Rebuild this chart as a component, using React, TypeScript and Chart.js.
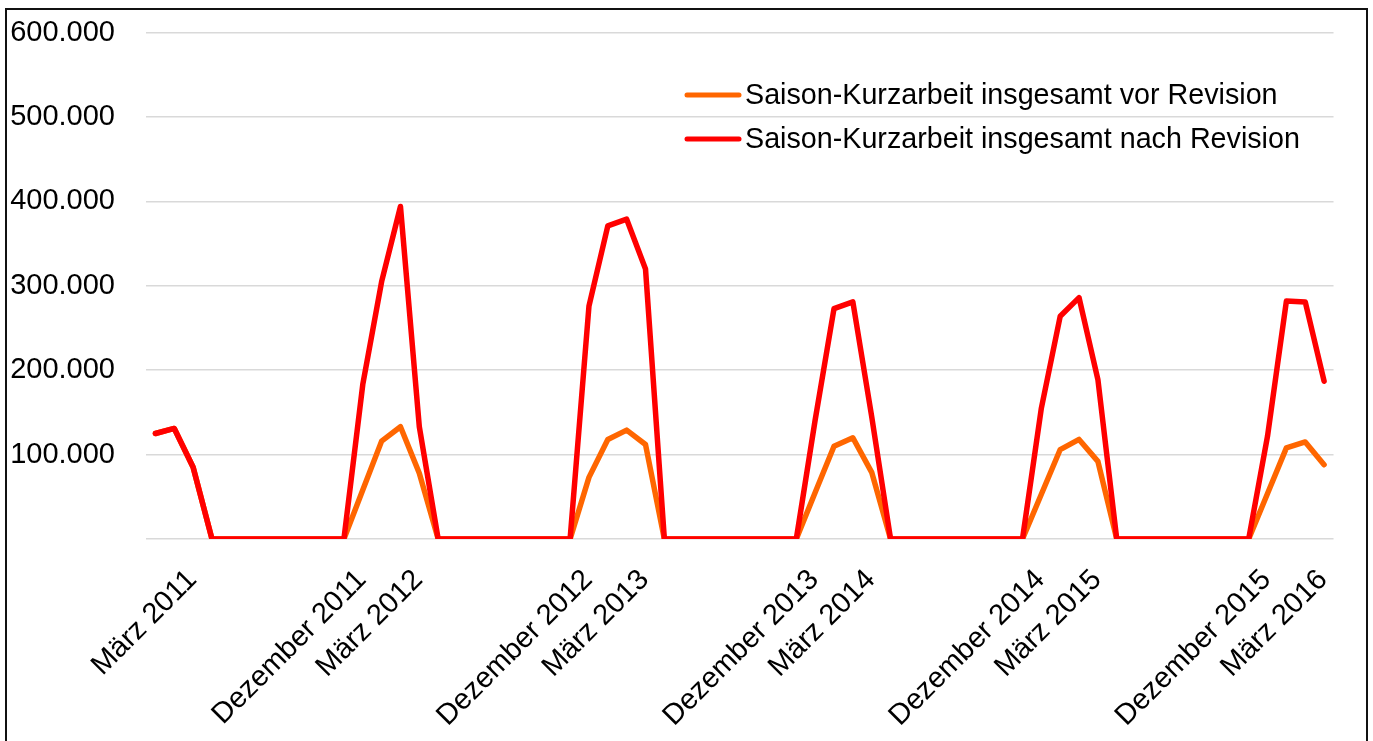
import React, { useEffect, useRef } from 'react';
import { Chart, registerables } from 'chart.js';

Chart.register(...registerables);

const CATEGORIES = [
  'Januar 2011', 'Februar 2011', 'März 2011', 'April 2011', 'Mai 2011', 'Juni 2011', 'Juli 2011', 'August 2011', 'September 2011', 'Oktober 2011', 'November 2011', 'Dezember 2011',
  'Januar 2012', 'Februar 2012', 'März 2012', 'April 2012', 'Mai 2012', 'Juni 2012', 'Juli 2012', 'August 2012', 'September 2012', 'Oktober 2012', 'November 2012', 'Dezember 2012',
  'Januar 2013', 'Februar 2013', 'März 2013', 'April 2013', 'Mai 2013', 'Juni 2013', 'Juli 2013', 'August 2013', 'September 2013', 'Oktober 2013', 'November 2013', 'Dezember 2013',
  'Januar 2014', 'Februar 2014', 'März 2014', 'April 2014', 'Mai 2014', 'Juni 2014', 'Juli 2014', 'August 2014', 'September 2014', 'Oktober 2014', 'November 2014', 'Dezember 2014',
  'Januar 2015', 'Februar 2015', 'März 2015', 'April 2015', 'Mai 2015', 'Juni 2015', 'Juli 2015', 'August 2015', 'September 2015', 'Oktober 2015', 'November 2015', 'Dezember 2015',
  'Januar 2016', 'Februar 2016', 'März 2016',
];

const SHOWN_LABELS = [
  'März 2011', 'Dezember 2011', 'März 2012', 'Dezember 2012', 'März 2013', 'Dezember 2013',
  'März 2014', 'Dezember 2014', 'März 2015', 'Dezember 2015', 'März 2016',
];

const VOR_REVISION = [
  125000, 131000, 85000, 0, 0, 0, 0, 0, 0, 0, 0, 58000,
  116000, 133000, 78000, 0, 0, 0, 0, 0, 0, 0, 0, 73000,
  118000, 129000, 112000, 0, 0, 0, 0, 0, 0, 0, 0, 55000,
  110000, 120000, 79000, 0, 0, 0, 0, 0, 0, 0, 0, 53000,
  106000, 118000, 92000, 0, 0, 0, 0, 0, 0, 0, 0, 54000,
  108000, 115000, 88000,
];

const NACH_REVISION = [
  125000, 131000, 85000, 0, 0, 0, 0, 0, 0, 0, 0, 183000,
  305000, 394000, 133000, 0, 0, 0, 0, 0, 0, 0, 0, 276000,
  371000, 379000, 320000, 0, 0, 0, 0, 0, 0, 0, 0, 141000,
  273000, 281000, 145000, 0, 0, 0, 0, 0, 0, 0, 0, 155000,
  264000, 286000, 189000, 0, 0, 0, 0, 0, 0, 0, 0, 122000,
  282000, 281000, 187000,
];

const SERIES_NAMES = [
  'Saison-Kurzarbeit insgesamt vor Revision',
  'Saison-Kurzarbeit insgesamt nach Revision',
];
const SERIES_COLORS = ['#FF6600', '#FF0000'];

const Y_MIN = 0;
const Y_MAX = 600000;
const Y_STEP = 100000;

const LABEL_FONT = '"Liberation Sans", Arial, sans-serif';

function formatDE(v: number): string {
  return String(Math.round(v)).replace(/\B(?=(\d{3})+(?!\d))/g, '.');
}

const legendPlugin = {
  id: 'customLegend',
  afterDraw(chart: any) {
    const ctx = chart.ctx as CanvasRenderingContext2D;
    const rows = [95, 139];
    ctx.save();
    SERIES_NAMES.forEach((name, i) => {
      const y = rows[i];
      ctx.strokeStyle = SERIES_COLORS[i];
      ctx.lineWidth = 5;
      ctx.lineCap = 'round';
      ctx.beginPath();
      ctx.moveTo(687, y);
      ctx.lineTo(739, y);
      ctx.stroke();
      ctx.fillStyle = '#000';
      ctx.font = `28.7px ${LABEL_FONT}`;
      ctx.textBaseline = 'middle';
      ctx.textAlign = 'left';
      ctx.fillText(name, 745, y + 1);
    });
    ctx.restore();
  },
};

export default function App() {
  const canvasRef = useRef<HTMLCanvasElement | null>(null);

  useEffect(() => {
    const canvas = canvasRef.current;
    if (!canvas) return;
    const chart = new Chart(canvas, {
      type: 'line',
      data: {
        labels: CATEGORIES,
        datasets: [
          {
            label: SERIES_NAMES[1],
            data: NACH_REVISION,
            borderColor: SERIES_COLORS[1],
            backgroundColor: SERIES_COLORS[1],
            borderWidth: 5.5,
            pointRadius: 0,
            tension: 0,
            borderJoinStyle: 'round',
            borderCapStyle: 'round',
            order: 0,
          },
          {
            label: SERIES_NAMES[0],
            data: VOR_REVISION,
            borderColor: SERIES_COLORS[0],
            backgroundColor: SERIES_COLORS[0],
            borderWidth: 5.5,
            pointRadius: 0,
            tension: 0,
            borderJoinStyle: 'round',
            borderCapStyle: 'round',
            order: 1,
          },
        ],
      },
      options: {
        responsive: false,
        animation: false,
        layout: { padding: { left: 0, top: 32.7, right: 38, bottom: 0 } },
        plugins: {
          legend: { display: false },
          tooltip: { enabled: false },
          title: { display: false },
        },
        scales: {
          x: {
            type: 'category',
            offset: true,
            grid: { display: false, drawTicks: false },
            border: { display: false },
            ticks: {
              autoSkip: false,
              maxRotation: 45,
              minRotation: 45,
              padding: 24,
              labelOffset: -1,
              color: '#000',
              font: { family: LABEL_FONT, size: 29 },
              callback: (_v: any, idx: number) =>
                SHOWN_LABELS.includes(CATEGORIES[idx]) ? CATEGORIES[idx] : '',
            },
            afterFit: (scale: any) => {
              scale.height = 202;
            },
          },
          y: {
            min: Y_MIN,
            max: Y_MAX,
            grid: { color: '#d9d9d9', lineWidth: 1.6, drawTicks: false },
            border: { display: false },
            ticks: {
              stepSize: Y_STEP,
              padding: 31,
              color: '#000',
              font: { family: LABEL_FONT, size: 29 },
              callback: (v: any) => (Number(v) === 0 ? '' : formatDE(Number(v))),
            },
            afterFit: (scale: any) => {
              scale.width = 146;
              scale.paddingTop = 0;
              scale.paddingBottom = 0;
            },
          },
        },
      },
      plugins: [legendPlugin],
    });
    return () => chart.destroy();
  }, []);

  return (
    <div>
      <div
        style={{
          position: 'fixed',
          left: 5,
          top: 8,
          width: 1363,
          height: 800,
          border: '2px solid #111',
          boxSizing: 'border-box',
          background: '#fff',
        }}
      />
      <canvas
        ref={canvasRef}
        width={1373}
        height={741}
        style={{ position: 'fixed', left: 0, top: 0, width: 1373, height: 741 }}
      />
    </div>
  );
}
